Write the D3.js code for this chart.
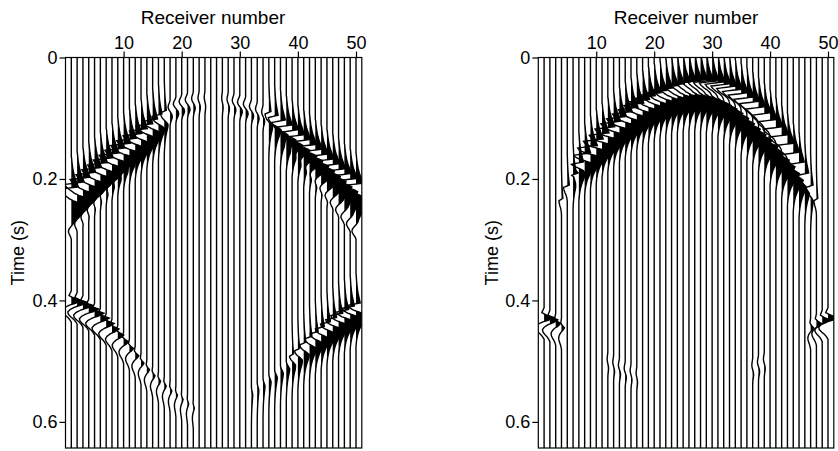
<!DOCTYPE html>
<html>
<head>
<meta charset="utf-8">
<script src="https://cdn.jsdelivr.net/npm/d3@7"></script>
<style>
  body { margin: 0; background: #fff; }
  svg { display: block; font-family: "Liberation Sans", Arial, Helvetica, sans-serif; }
</style>
</head>
<body>
<svg id="chart" width="838" height="451"></svg>
<script>
// Axis values
const receiverTicks = [10, 20, 30, 40, 50];
const timeTicks = [0, 0.2, 0.4, 0.6];
const receivers = d3.range(1, 51);      // receivers 1..50
const receiverDomain = [0, 51];
const timeDomain = [0, 0.643];

const waveStep = 0.004;
// slow positive ramp, sharp snap to negative, recovery
const snapWavelet = [0.04, 0.08, 0.12, 0.17, 0.23, 0.3, 0.38, 0.48, 0.6, 0.75, 0.9, 1.05, 1.2,
                     -2.2, -1.9, -1.4, -0.8, -0.35, -0.1, 0];
const snapZero = 12;
// positive lobe with a slow tail
const lobeWavelet = [0, 0.5, 1.5, 2.3, 2.1, 1.8, 1.45, 1.15, 0.9, 0.68, 0.5, 0.36, 0.25, 0.16, 0.09, 0.04, 0];
const lobeZero = 3;
// small dip, positive peak, broad negative swing
const pulseWavelet = [0, -0.2, -0.4, 0.4, 1.7, 0.9, -0.4, -1.2, -1.6, -1.5, -1.1, -0.6, -0.25, 0];
const pulseZero = 4;
// broad negative swing
const swingWavelet = [0, -0.3, -0.8, -1.2, -1.2, -0.8, -0.3, 0];
const swingZero = 3;
// gentle S-shaped wiggle
const wiggleWavelet = [0, -0.3, -0.8, -1.0, -0.6, 0.2, 0.9, 1.1, 0.8, 0.35, 0.1, 0];
const wiggleZero = 5;

// Picks: [receiver, time (s), amplitude]
// Left panel
const leftFlankSnapA = [[1,0.213,1],[2,0.205,1],[3,0.197,1],[4,0.189,1],[5,0.181,1],[6,0.173,1],
  [7,0.165,1],[8,0.157,1],[9,0.149,1],[10,0.141,1],[11,0.133,1],[12,0.125,0.95],[13,0.117,0.9],
  [14,0.109,0.85],[15,0.101,0.7],[16,0.093,0.5],[17,0.087,0.3]];
const leftFlankLobeA = [[1,0.244,1],[2,0.235,1],[3,0.227,1],[4,0.218,1],[5,0.210,1],[6,0.201,1],
  [7,0.193,1],[8,0.184,1],[9,0.176,1],[10,0.167,1],[11,0.159,1],[12,0.150,0.95],[13,0.142,0.9],
  [14,0.133,0.85],[15,0.125,0.7],[16,0.117,0.5],[17,0.110,0.3]];
const centreWiggleA = [[18,0.090,0.35],[19,0.085,0.45],[20,0.081,0.45],[21,0.078,0.4],[22,0.076,0.3],
  [23,0.075,0.2],[24,0.074,0.12],[27,0.075,0.12],[28,0.077,0.2],[29,0.079,0.3],[30,0.082,0.4],
  [31,0.085,0.4],[32,0.089,0.35],[33,0.093,0.3],[34,0.098,0.25]];
const rightFlankSnapA = [[35,0.089,0.3],[36,0.095,0.5],[37,0.103,0.7],[38,0.111,0.85],[39,0.119,0.9],
  [40,0.127,0.95],[41,0.135,1],[42,0.143,1],[43,0.151,1],[44,0.159,1],[45,0.167,1],[46,0.175,1],
  [47,0.183,1],[48,0.191,1],[49,0.199,1],[50,0.207,1]];
const rightFlankLobeA = [[35,0.113,0.3],[36,0.119,0.5],[37,0.128,0.7],[38,0.136,0.85],[39,0.145,0.9],
  [40,0.153,0.95],[41,0.162,1],[42,0.170,1],[43,0.179,1],[44,0.187,1],[45,0.196,1],[46,0.204,1],
  [47,0.213,1],[48,0.221,1],[49,0.230,1],[50,0.238,1]];
const leftTrailA = [[1,0.283,0.5],[2,0.271,0.5],[3,0.259,0.5],[4,0.247,0.5],[5,0.235,0.5],[6,0.223,0.5],
  [7,0.211,0.5],[8,0.199,0.5],[9,0.187,0.5],[10,0.175,0.45],[11,0.164,0.4],[12,0.153,0.35],
  [13,0.142,0.3],[14,0.132,0.25]];
const rightTrailA = [[37,0.132,0.3],[38,0.142,0.4],[39,0.153,0.5],[40,0.164,0.55],[41,0.175,0.6],
  [42,0.187,0.6],[43,0.199,0.6],[44,0.211,0.6],[45,0.223,0.6],[46,0.235,0.6],[47,0.247,0.6],
  [48,0.259,0.6],[49,0.271,0.6],[50,0.283,0.6]];
const lowerLeftPulseA = [[1,0.400,1],[2,0.403,1],[3,0.408,1],[4,0.414,1],[5,0.421,0.95],[6,0.429,0.9],
  [7,0.438,0.8],[8,0.447,0.7],[9,0.457,0.6],[10,0.468,0.5],[11,0.479,0.42],[12,0.491,0.36],
  [13,0.503,0.3],[14,0.514,0.27],[15,0.524,0.24],[16,0.533,0.22],[17,0.541,0.2],[18,0.549,0.18],
  [19,0.556,0.16],[20,0.563,0.14],[21,0.570,0.12],[22,0.577,0.1]];
const lowerRightLobeA = [[50,0.424,0.85],[49,0.429,0.85],[48,0.435,0.85],[47,0.441,0.8],[46,0.448,0.8],
  [45,0.455,0.75],[44,0.463,0.7],[43,0.471,0.65],[42,0.479,0.55],[41,0.489,0.45],[40,0.498,0.38],
  [39,0.506,0.3],[38,0.513,0.26],[37,0.520,0.22],[36,0.527,0.2],[35,0.534,0.17],[34,0.541,0.15],
  [33,0.548,0.12],[32,0.555,0.1]];
const lowerRightSnapA = [[50,0.404,0.6],[49,0.409,0.6],[48,0.415,0.6],[47,0.421,0.6],[46,0.428,0.55],
  [45,0.435,0.5],[44,0.443,0.45],[43,0.451,0.4],[42,0.459,0.35],[41,0.469,0.3],[40,0.479,0.25],
  [39,0.488,0.2]];

// Right panel
const arcSnapB = [[4,0.232,0.2],[5,0.210,0.3],[6,0.190,0.45],[7,0.172,0.65],[8,0.157,0.85],[9,0.145,1],
  [10,0.134,1],[11,0.124,1],[12,0.114,1],[13,0.105,1],[14,0.097,1],[15,0.089,1],[16,0.082,1],
  [17,0.075,1],[18,0.069,1],[19,0.063,1],[20,0.058,1],[21,0.054,1],[22,0.050,1],[23,0.046,1],
  [24,0.043,1],[25,0.040,1],[26,0.038,1],[27,0.036,1],[28,0.036,1],[29,0.037,1],[30,0.038,1],
  [31,0.040,1],[32,0.043,1],[33,0.047,1],[34,0.052,1],[35,0.058,1],[36,0.065,1],[37,0.072,1],
  [38,0.081,1],[39,0.091,1],[40,0.102,1],[41,0.114,1],[42,0.127,1],[43,0.141,1],[44,0.156,0.9],
  [45,0.172,0.75],[46,0.190,0.55],[47,0.210,0.35],[48,0.232,0.2]];
const arcLobeB = [[6,0.197,0.45],[7,0.186,0.65],[8,0.175,0.85],[9,0.165,1],[10,0.155,1],[11,0.146,1],
  [12,0.137,1],[13,0.129,1],[14,0.121,1],[15,0.114,1],[16,0.108,1],[17,0.101,1],[18,0.095,1],
  [19,0.090,1],[20,0.085,1],[21,0.081,1],[22,0.077,1],[23,0.074,1],[24,0.072,1],[25,0.070,1],
  [26,0.069,1],[27,0.069,1],[28,0.070,1],[29,0.072,1],[30,0.075,1],[31,0.079,1],[32,0.085,1],
  [33,0.092,1],[34,0.100,1],[35,0.109,1],[36,0.118,1],[37,0.127,1],[38,0.136,1],[39,0.147,1],
  [40,0.158,1],[41,0.169,1],[42,0.180,1],[43,0.191,0.9],[44,0.202,0.75],[45,0.213,0.55],
  [46,0.224,0.35],[47,0.236,0.2]];
const edgePulseB = [[1,0.428,1],[2,0.432,0.8],[3,0.438,0.5],[4,0.445,0.3],
  [50,0.428,1],[49,0.432,0.8],[48,0.438,0.5],[47,0.445,0.3]];
const weakWiggleB = [[12,0.505,0.12],[13,0.510,0.15],[14,0.515,0.18],[15,0.520,0.18],[16,0.524,0.15],
  [17,0.528,0.12],[37,0.515,0.15],[38,0.510,0.18],[39,0.505,0.15]];

const wavelets = {
  snap: {w: snapWavelet, zero: snapZero},
  lobe: {w: lobeWavelet, zero: lobeZero},
  pulse: {w: pulseWavelet, zero: pulseZero},
  swing: {w: swingWavelet, zero: swingZero},
  wiggle: {w: wiggleWavelet, zero: wiggleZero}
};

const panels = [
  { left: 65.5, right: 361.8, labelX: 18, titleX: 213,
    events: [
      {picks: leftFlankSnapA, type: 'snap'}, {picks: leftFlankLobeA, type: 'lobe'},
      {picks: centreWiggleA, type: 'wiggle'},
      {picks: rightFlankSnapA, type: 'snap'}, {picks: rightFlankLobeA, type: 'lobe'},
      {picks: leftTrailA, type: 'swing'}, {picks: rightTrailA, type: 'swing'},
      {picks: lowerLeftPulseA, type: 'pulse'},
      {picks: lowerRightSnapA, type: 'snap'}, {picks: lowerRightLobeA, type: 'lobe'}
    ]},
  { left: 538.3, right: 833.8, labelX: 492, titleX: 686,
    events: [
      {picks: arcSnapB, type: 'snap'}, {picks: arcLobeB, type: 'lobe'},
      {picks: edgePulseB, type: 'pulse'}, {picks: weakWiggleB, type: 'wiggle'}
    ]}
];

const plotTop = 57.5, plotBottom = 448;
const sampleStep = 0.001;
const svg = d3.select('#chart');

function waveAt(wv, tau) {
  const pos = tau / waveStep + wv.zero;
  if (pos <= 0 || pos >= wv.w.length - 1) return 0;
  const i = Math.floor(pos), f = pos - i;
  return wv.w[i] * (1 - f) + wv.w[i + 1] * f;
}

panels.forEach((p, pi) => {
  const x = d3.scaleLinear().domain(receiverDomain).range([p.left, p.right]);
  const y = d3.scaleLinear().domain(timeDomain).range([plotTop, plotBottom]);
  const dx = x(1) - x(0);
  const times = d3.range(0, timeDomain[1] + sampleStep / 2, sampleStep);

  svg.append('clipPath').attr('id', 'clip' + pi)
    .append('rect')
    .attr('x', p.left).attr('y', plotTop)
    .attr('width', p.right - p.left).attr('height', plotBottom - plotTop);

  const g = svg.append('g').attr('clip-path', `url(#clip${pi})`);

  receivers.forEach(r => {
    const picks = [];
    p.events.forEach(ev => {
      ev.picks.forEach(pk => { if (pk[0] === r) picks.push({t: pk[1], a: pk[2], wv: wavelets[ev.type]}); });
    });
    const trace = times.map(t => ({t: t, v: d3.sum(picks, pk => pk.a * waveAt(pk.wv, t - pk.t))}));
    const base = x(r);

    g.append('path')
      .datum(trace)
      .attr('fill', '#000')
      .attr('d', d3.area()
        .y(d => y(d.t))
        .x0(base)
        .x1(d => base + Math.max(0, d.v) * dx));

    g.append('path')
      .datum(trace)
      .attr('fill', 'none')
      .attr('stroke', '#000')
      .attr('stroke-width', 1.4)
      .attr('d', d3.line().x(d => base + d.v * dx).y(d => y(d.t)));
  });

  // frame
  svg.append('rect')
    .attr('x', p.left).attr('y', plotTop)
    .attr('width', p.right - p.left).attr('height', plotBottom - plotTop)
    .attr('fill', 'none').attr('stroke', '#000').attr('stroke-width', 1.2);

  // axes
  const xAxis = svg.append('g')
    .attr('transform', `translate(0,${plotTop})`)
    .call(d3.axisTop(x).tickValues(receiverTicks).tickSize(6).tickSizeOuter(0).tickPadding(3));
  const yAxis = svg.append('g')
    .attr('transform', `translate(${p.left},0)`)
    .call(d3.axisLeft(y).tickValues(timeTicks).tickSize(6).tickSizeOuter(0).tickPadding(2)
      .tickFormat(d => d === 0 ? '0' : d3.format('.1f')(d)));
  [xAxis, yAxis].forEach(a => {
    a.select('.domain').remove();
    a.selectAll('line').attr('stroke', '#000').attr('stroke-width', 1.2);
    a.selectAll('text').attr('fill', '#000').style('font-size', '18px').style('font-family', null);
  });

  svg.append('text')
    .attr('x', p.titleX).attr('y', 24)
    .attr('text-anchor', 'middle')
    .style('font-size', '19px')
    .text('Receiver number');

  svg.append('text')
    .attr('transform', `translate(${p.labelX},${(plotTop + plotBottom) / 2}) rotate(-90)`)
    .attr('text-anchor', 'middle')
    .attr('dy', '0.35em')
    .style('font-size', '18px')
    .text('Time (s)');
});
</script>
</body>
</html>
